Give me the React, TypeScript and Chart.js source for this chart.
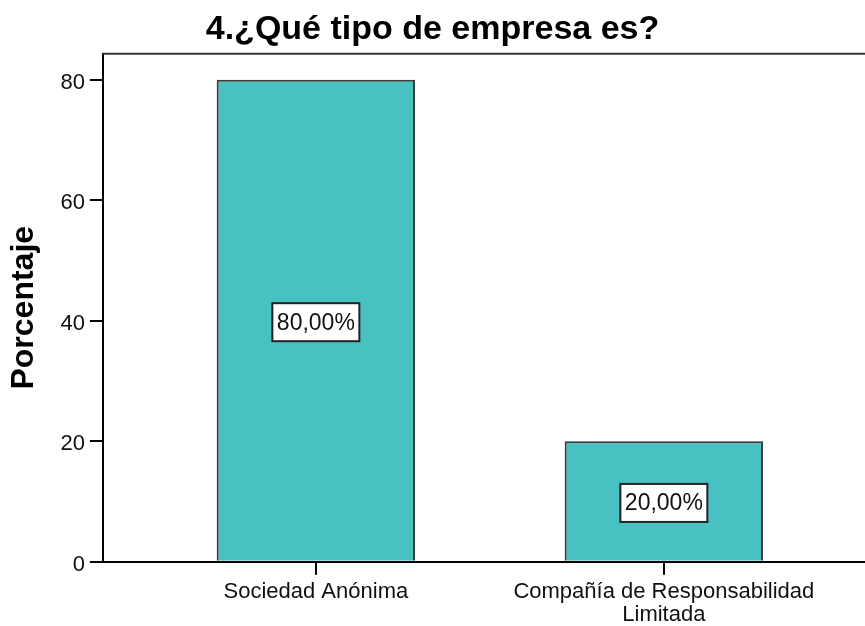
import { useEffect, useRef } from 'react';
import { Chart, registerables } from 'chart.js';

Chart.register(...registerables);

const chartTitle = '4.¿Qué tipo de empresa es?';
const yAxisTitle = 'Porcentaje';
const categories: string[][] = [['Sociedad Anónima'], ['Compañía de Responsabilidad', 'Limitada']];
const categoryPositions = [1, 2];
const percentages = [80, 20];
const valueLabels = ['80,00%', '20,00%'];
const yTickValues = [0, 20, 40, 60, 80];

const FONT = '"Liberation Sans", Arial, Helvetica, sans-serif';

const frameTopPlugin = {
  id: 'frameTop',
  afterDraw(chart: any) {
    const { ctx, chartArea } = chart;
    ctx.save();
    ctx.strokeStyle = '#333333';
    ctx.lineWidth = 2;
    ctx.beginPath();
    ctx.moveTo(chartArea.left, chartArea.top);
    ctx.lineTo(chartArea.right, chartArea.top);
    ctx.stroke();
    ctx.restore();
  },
};

const boxLabelPlugin = {
  id: 'boxLabels',
  afterDatasetsDraw(chart: any) {
    const { ctx } = chart;
    const meta = chart.getDatasetMeta(0);
    ctx.save();
    ctx.font = `23px ${FONT}`;
    ctx.textAlign = 'center';
    ctx.textBaseline = 'middle';
    meta.data.forEach((bar: any, i: number) => {
      const { x, y, base } = bar.getProps(['x', 'y', 'base'], true);
      const text = valueLabels[i];
      const cy = (y + base) / 2 + 2;
      const w = ctx.measureText(text).width + 9;
      const h = 38;
      ctx.fillStyle = '#ffffff';
      ctx.fillRect(x - w / 2, cy - h / 2, w, h);
      ctx.strokeStyle = '#222222';
      ctx.lineWidth = 2;
      ctx.strokeRect(x - w / 2, cy - h / 2, w, h);
      ctx.fillStyle = '#111111';
      ctx.fillText(text, x, cy + 1);
    });
    ctx.restore();
  },
};

export default function App() {
  const canvasRef = useRef<HTMLCanvasElement | null>(null);

  useEffect(() => {
    document.body.style.margin = '0';
    Chart.defaults.font.family = FONT;
    const canvas = canvasRef.current;
    if (!canvas) return;
    const chart = new Chart(canvas, {
      type: 'bar',
      data: {
        datasets: [
          {
            data: categoryPositions.map((x, i) => ({ x, y: percentages[i] })),
            backgroundColor: '#48C1C3',
            borderColor: '#3a3a3a',
            borderWidth: 2,
            barPercentage: 0.57,
            categoryPercentage: 1,
          },
        ],
      },
      options: {
        responsive: false,
        animation: false,
        layout: { padding: { left: 0, right: 0, top: 0, bottom: 0 } },
        plugins: {
          legend: { display: false },
          tooltip: { enabled: false },
          title: {
            display: true,
            text: chartTitle,
            color: '#000000',
            font: { size: 34, weight: 'bold', lineHeight: 1.2 },
            padding: { top: 9, bottom: 4 },
          },
        },
        scales: {
          x: {
            type: 'linear',
            offset: false,
            min: 0.388,
            max: 2.578,
            afterBuildTicks: (scale: any) => {
              scale.ticks = categoryPositions.map((v) => ({ value: v }));
            },
            ticks: {
              autoSkip: false,
              maxRotation: 0,
              padding: 6,
              color: '#111111',
              font: { size: 22, lineHeight: 1.03 },
              callback: (_v: any, index: number) => categories[index],
            },
            grid: {
              display: true,
              offset: false,
              drawOnChartArea: false,
              drawTicks: true,
              tickLength: 13,
              color: '#000000',
              lineWidth: 2,
            },
            border: { display: true, color: '#000000', width: 2 },
          },
          y: {
            min: 0,
            max: 84.3,
            afterBuildTicks: (scale: any) => {
              scale.ticks = yTickValues.map((v) => ({ value: v }));
            },
            ticks: {
              padding: 5,
              labelOffset: 3,
              color: '#111111',
              font: { size: 22 },
            },
            grid: {
              display: true,
              drawOnChartArea: false,
              drawTicks: true,
              tickLength: 13,
              color: '#000000',
              lineWidth: 2,
            },
            border: { display: true, color: '#000000', width: 2 },
            title: {
              display: true,
              text: yAxisTitle,
              color: '#000000',
              font: { size: 32, weight: 'bold', lineHeight: 1.2 },
              padding: { top: 5, bottom: 12 },
            },
          },
        },
      },
      plugins: [frameTopPlugin, boxLabelPlugin],
    } as any);
    return () => chart.destroy();
  }, []);

  return (
    <div style={{ width: 865, height: 626, overflow: 'hidden' }}>
      <canvas ref={canvasRef} width={865} height={632} style={{ display: 'block' }} />
    </div>
  );
}
